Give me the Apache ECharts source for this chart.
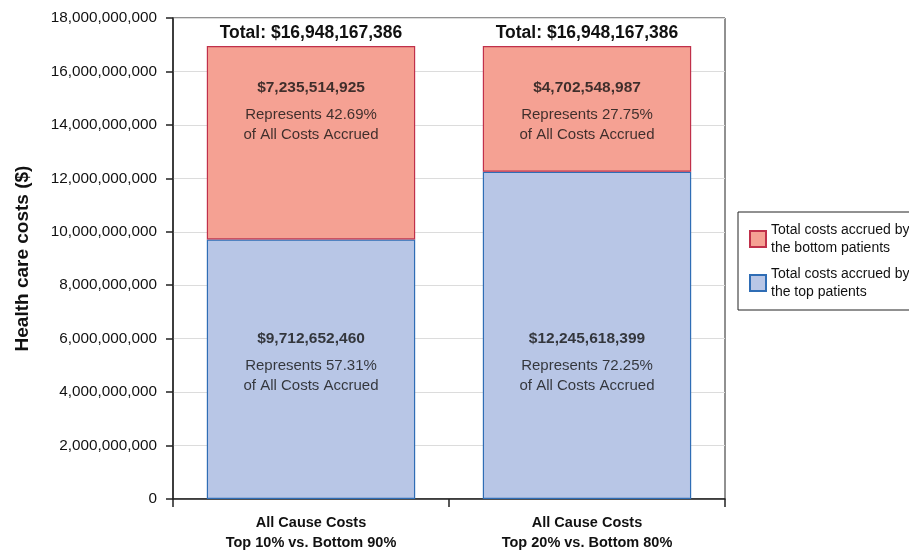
<!DOCTYPE html>
<html>
<head>
<meta charset="utf-8">
<script src="https://cdn.jsdelivr.net/npm/echarts@6/dist/echarts.min.js"></script>
<style>html,body{margin:0;padding:0;background:#fff;}#c{width:909px;height:554px;}</style>
</head>
<body>
<div id="c"></div>
<script>
const categories = ['All Cause Costs\nTop 10% vs. Bottom 90%', 'All Cause Costs\nTop 20% vs. Bottom 80%'];
const topPatients = [9712652460, 12245618399];
const bottomPatients = [7235514925, 4702548987];
const totals = [16948167386, 16948167386];
const topPct = ['57.31%', '72.25%'];
const bottomPct = ['42.69%', '27.75%'];
const seriesNames = ['Total costs accrued by\nthe bottom patients', 'Total costs accrued by\nthe top patients'];
const yTicks = { min: 0, max: 18000000000, interval: 2000000000 };

const fmt = v => Number(v).toLocaleString('en-US');
const FONT = 'Liberation Sans, Arial, sans-serif';

// label anchor levels (value units) for inner text blocks
const bottomLabelLevel = 14630000000;
const topLabelLevel = 5240000000;

const rich = {
  v: { fontFamily: FONT, fontSize: 15.5, fontWeight: 'bold', color: '#111', lineHeight: 34 },
  t: { fontFamily: FONT, fontSize: 15, color: '#111', lineHeight: 20 }
};

const chart = echarts.init(document.getElementById('c'));
chart.setOption({
  animation: false,
  backgroundColor: '#fff',
  grid: { left: 173, right: 184, top: 18, bottom: 55, show: true, borderColor: '#222', borderWidth: 1 },
  legend: {
    orient: 'vertical', left: 738, top: 212,
    data: [seriesNames[0], seriesNames[1]],
    itemWidth: 16, itemHeight: 16, itemGap: 8,
    padding: [9, 14, 9, 11],
    borderColor: '#222', borderWidth: 1,
    icon: 'rect',
    textStyle: { fontFamily: FONT, fontSize: 14, color: '#111', lineHeight: 18 }
  },
  xAxis: {
    type: 'category', data: categories,
    axisLine: { lineStyle: { color: '#222', width: 1.5 } },
    axisTick: { show: true, length: 8, lineStyle: { color: '#222', width: 1.5 } },
    axisLabel: { fontFamily: FONT, fontSize: 14.5, fontWeight: 'bold', color: '#111', lineHeight: 20, margin: 14 }
  },
  yAxis: {
    type: 'value', min: yTicks.min, max: yTicks.max, interval: yTicks.interval,
    name: 'Health care costs ($)', nameLocation: 'middle', nameRotate: 90, nameGap: 141,
    nameTextStyle: { fontFamily: FONT, fontSize: 19, fontWeight: 'bold', color: '#111' },
    axisLine: { show: true, lineStyle: { color: '#222', width: 1.5 } },
    axisTick: { show: true, length: 7, lineStyle: { color: '#222', width: 1.5 } },
    axisLabel: { fontFamily: FONT, fontSize: 15.3, color: '#111', margin: 16, formatter: v => fmt(v) },
    splitLine: { lineStyle: { color: '#dcdcdc', width: 1 } }
  },
  series: [
    {
      name: seriesNames[1], type: 'bar', stack: 's', barWidth: '75.5%',
      data: topPatients,
      itemStyle: { color: '#B8C6E6', borderColor: '#2F6DB5', borderWidth: 1.2 }
    },
    {
      name: seriesNames[0], type: 'bar', stack: 's', barWidth: '75.5%',
      data: bottomPatients,
      itemStyle: { color: '#F5A193', borderColor: '#C0304A', borderWidth: 1.2 },
      label: {
        show: true, position: 'top', distance: 4,
        fontFamily: FONT, fontSize: 17.5, fontWeight: 'bold', color: '#111',
        formatter: p => 'Total: $' + fmt(totals[p.dataIndex])
      }
    },
    {
      type: 'scatter', symbolSize: 0, silent: true,
      data: [[0, bottomLabelLevel], [1, bottomLabelLevel]],
      label: {
        show: true, position: 'inside', color: '#111', rich,
        formatter: p => '{v|$' + fmt(bottomPatients[p.dataIndex]) + '}\n{t|Represents ' + bottomPct[p.dataIndex] + '}\n{t|of All Costs Accrued}'
      }
    },
    {
      type: 'scatter', symbolSize: 0, silent: true,
      data: [[0, topLabelLevel], [1, topLabelLevel]],
      label: {
        show: true, position: 'inside', color: '#111', rich,
        formatter: p => '{v|$' + fmt(topPatients[p.dataIndex]) + '}\n{t|Represents ' + topPct[p.dataIndex] + '}\n{t|of All Costs Accrued}'
      }
    }
  ]
});
</script>
</body>
</html>
